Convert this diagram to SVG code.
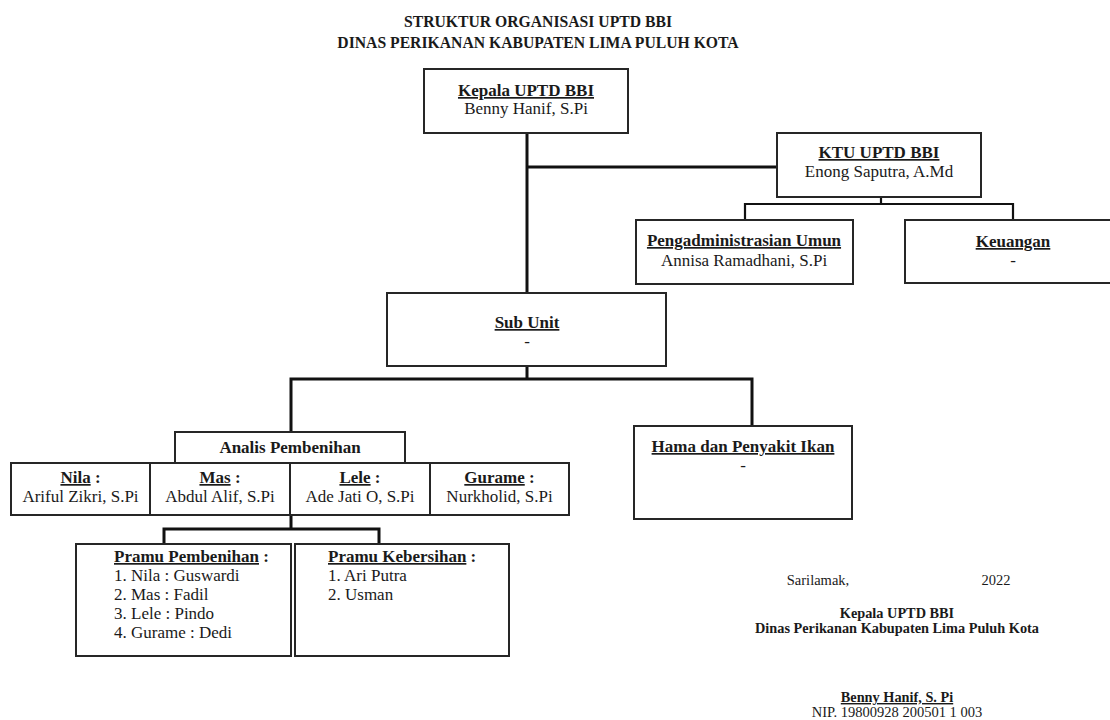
<svg xmlns="http://www.w3.org/2000/svg" width="1110" height="720" viewBox="0 0 1110 720">
<style>
text{font-family:"Liberation Serif","Times New Roman",serif;fill:#1a1a1a}
.t{font-size:15.7px;font-weight:bold;text-anchor:middle}
.b{font-size:17px;font-weight:bold;text-anchor:middle}
.r{font-size:17px;text-anchor:middle}
.l{font-size:17px}
.lb{font-size:17px;font-weight:bold}
.u{text-decoration:underline}
.s{font-size:14.5px;text-anchor:middle}
.sb{font-size:14.3px;font-weight:bold;text-anchor:middle}
.box{fill:#fff;stroke:#262626;stroke-width:2}
.c3{fill:none;stroke:#111;stroke-width:3}
.c2{fill:none;stroke:#111;stroke-width:2.2}
</style>
<rect width="1110" height="720" fill="#fff"/>
<g id="title">
<text class="t" x="538" y="27">STRUKTUR ORGANISASI UPTD BBI</text>
<text class="t" x="538" y="48">DINAS PERIKANAN KABUPATEN LIMA PULUH KOTA</text>
</g>
<g id="connectors">
<path class="c3" d="M527 133V293"/>
<path class="c3" d="M527 167H777"/>
<path class="c2" d="M881 197V204M745 220V204H1013V220"/>
<path class="c3" d="M527 366V379M291 432V379H752V426"/>
<path class="c3" d="M291 515V529M164 544V529H379V544"/>
</g>
<g id="kepala">
<rect class="box" x="424" y="69" width="204" height="64"/>
<text class="b u" x="526" y="96">Kepala UPTD BBI</text>
<text class="r" x="526" y="114">Benny Hanif, S.Pi</text>
</g>
<g id="ktu">
<rect class="box" x="777" y="133" width="204" height="64"/>
<text class="b u" x="879" y="158">KTU UPTD BBI</text>
<text class="r" x="879" y="177">Enong Saputra, A.Md</text>
</g>
<g id="pengadministrasian">
<rect class="box" x="636" y="220" width="217" height="64"/>
<text class="b u" x="744" y="246">Pengadministrasian Umun</text>
<text class="r" x="744" y="266">Annisa Ramadhani, S.Pi</text>
</g>
<g id="keuangan">
<rect class="box" x="905" y="220" width="217" height="63"/>
<text class="b u" x="1013" y="247">Keuangan</text>
<text class="r" x="1013" y="266">-</text>
</g>
<g id="subunit">
<rect class="box" x="387" y="293" width="279" height="73"/>
<text class="b u" x="527" y="328">Sub Unit</text>
<text class="r" x="527" y="347">-</text>
</g>
<g id="analis">
<rect class="box" x="175" y="432" width="230" height="31"/>
<text class="b" x="290" y="453">Analis Pembenihan</text>
</g>
<g id="nila">
<rect class="box" x="11" y="463" width="139" height="52"/>
<text class="b" x="80.5" y="483"><tspan class="u">Nila</tspan> :</text>
<text class="r" x="80.5" y="502">Ariful Zikri, S.Pi</text>
</g>
<g id="mas">
<rect class="box" x="150" y="463" width="140" height="52"/>
<text class="b" x="220" y="483"><tspan class="u">Mas</tspan> :</text>
<text class="r" x="220" y="502">Abdul Alif, S.Pi</text>
</g>
<g id="lele">
<rect class="box" x="290" y="463" width="140" height="52"/>
<text class="b" x="360" y="483"><tspan class="u">Lele</tspan> :</text>
<text class="r" x="360" y="502">Ade Jati O, S.Pi</text>
</g>
<g id="gurame">
<rect class="box" x="430" y="463" width="139" height="52"/>
<text class="b" x="499.5" y="483"><tspan class="u">Gurame</tspan> :</text>
<text class="r" x="499.5" y="502">Nurkholid, S.Pi</text>
</g>
<g id="hama">
<rect class="box" x="634" y="426" width="218" height="93"/>
<text class="b u" x="743" y="452">Hama dan Penyakit Ikan</text>
<text class="r" x="743" y="471">-</text>
</g>
<g id="pramu-pembenihan">
<rect class="box" x="76" y="544" width="215" height="112"/>
<text class="lb" x="114" y="562"><tspan class="u">Pramu Pembenihan</tspan> :</text>
<text class="l" x="114" y="581">1. Nila : Guswardi</text>
<text class="l" x="114" y="600">2. Mas : Fadil</text>
<text class="l" x="114" y="619">3. Lele : Pindo</text>
<text class="l" x="114" y="638">4. Gurame : Dedi</text>
</g>
<g id="pramu-kebersihan">
<rect class="box" x="295" y="544" width="214" height="112"/>
<text class="lb" x="328" y="562"><tspan class="u">Pramu Kebersihan</tspan> :</text>
<text class="l" x="328" y="581">1. Ari Putra</text>
<text class="l" x="328" y="600">2. Usman</text>
</g>
<g id="signature">
<text class="s" x="818" y="585">Sarilamak,</text>
<text class="s" x="996" y="585">2022</text>
<text class="sb" x="897" y="618">Kepala UPTD BBI</text>
<text class="sb" x="897" y="633">Dinas Perikanan Kabupaten Lima Puluh Kota</text>
<text class="sb u" x="897" y="702">Benny Hanif, S. Pi</text>
<text class="s" x="897" y="717">NIP. 19800928 200501 1 003</text>
</g>
</svg>
